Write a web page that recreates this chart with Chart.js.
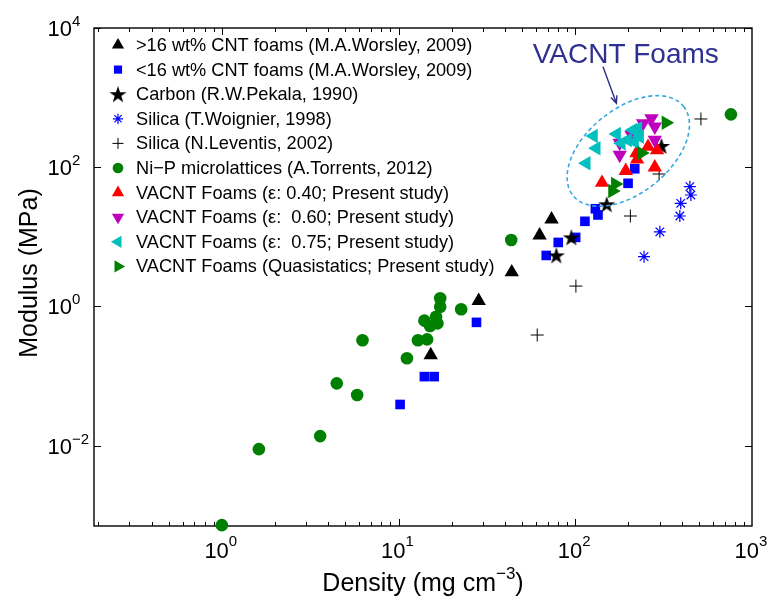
<!DOCTYPE html>
<html>
<head>
<meta charset="utf-8">
<script src="https://cdn.jsdelivr.net/npm/chart.js@4.4.0/dist/chart.umd.min.js"></script>
<style>
  body { margin: 0; background: #fff; }
</style>
</head>
<body>
<canvas id="grafico" width="773" height="598"></canvas>
<script>
// Dados (densidade mg/cm3, módulo MPa)
const cntAltoX = [15.2, 28.4, 43.7, 62.8, 73.4];
const cntAltoY = [0.2, 1.2, 3.1, 10.5, 17.8];

const cntBaixoX = [10.2, 14.0, 15.9, 27.6, 68.5, 80.1, 100.5, 113.4, 129.9, 134.4, 198.9, 217];
const cntBaixoY = [0.039, 0.098, 0.098, 0.59, 5.4, 8.3, 9.8, 16.7, 25.3, 20.6, 58.7, 95];

const carbonoX = [78.1, 95, 150.6, 307.5];
const carbonoY = [5.4, 9.8, 29.3, 202];

const silicaWX = [245, 301, 390.5, 395, 451, 445];
const silicaWY = [5.18, 11.8, 19.9, 30.3, 39.9, 52.5];

const silicaLX = [60.9, 100.8, 205, 298, 514];
const silicaLY = [0.388, 1.96, 19.9, 79.9, 493];

const niPX = [1.0, 1.62, 3.6, 4.47, 5.83, 6.25, 11.15, 12.88, 14.5, 14.0, 15.06, 16.3, 16.6, 17.2, 17.2, 22.6, 43.4, 760];
const niPY = [0.00072, 0.0089, 0.0137, 0.0785, 0.0533, 0.326, 0.180, 0.326, 0.336, 0.624, 0.523, 0.711, 0.571, 1.31, 0.99, 0.91, 9.0, 575];

const eps40X = [141.6, 193, 223.7, 222, 258, 290.4, 281.8];
const eps40Y = [59.9, 89, 129.9, 160, 197, 176.7, 99.7];

const eps60X = [178.4, 178.4, 208, 241.9, 269.9, 281.8, 281.8];
const eps60Y = [222.8, 149.7, 290, 427.6, 504, 381.9, 246];

const eps75X = [127, 131.6, 115.5, 171.6, 182.4, 212.3, 226.5, 231.6, 217, 198];
const eps75Y = [280.7, 187, 113.8, 300, 220.5, 342, 362, 274, 230, 246];

const quasiX = [325.3, 236.8, 168.2, 162.2];
const quasiY = [435.8, 160, 57.4, 45.5];

// eixos
const xMarcas = [1, 10, 100, 1000];
const xExpoentes = ['0', '1', '2', '3'];
const yMarcas = [1e-2, 1, 1e2, 1e4];
const yExpoentes = ['\u22122', '0', '2', '4'];

// anotação (em unidades dos dados)
const elipseCentro = [199.5, 171];
const setaInicio = [143.5, 2780];
const setaFim = [170.9, 828];
const textoAnotacao = [193, 3140];

const fonte = '"Liberation Sans", Arial, Helvetica, sans-serif';

function fazEstrela(r) {
    const c = document.createElement('canvas');
    c.width = c.height = Math.ceil(r * 2 + 2);
    const g = c.getContext('2d');
    const m = c.width / 2;
    g.beginPath();
    for (let k = 0; k < 10; k++) {
        const raio = k % 2 ? r * 0.382 : r;
        const ang = -Math.PI / 2 + k * Math.PI / 5;
        g.lineTo(m + raio * Math.cos(ang), m + raio * Math.sin(ang) + r * 0.08);
    }
    g.closePath();
    g.fillStyle = '#000';
    g.fill();
    return c;
}

const estrela = fazEstrela(9);

function pontos(xs, ys) {
    return xs.map((v, i) => ({ x: v, y: ys[i] }));
}

const series = [
    { label: '>16 wt% CNT foams (M.A.Worsley, 2009)', x: cntAltoX, y: cntAltoY, cor: '#000000', estilo: 'triangle', rot: 0, raio: 8.3, borda: 0 },
    { label: '<16 wt% CNT foams (M.A.Worsley, 2009)', x: cntBaixoX, y: cntBaixoY, cor: '#0000ff', estilo: 'rect', rot: 0, raio: 6.8, borda: 0 },
    { label: 'Carbon (R.W.Pekala, 1990)', x: carbonoX, y: carbonoY, cor: '#000000', estilo: estrela, rot: 0, raio: 8, borda: 0 },
    { label: 'Silica (T.Woignier, 1998)', x: silicaWX, y: silicaWY, cor: '#0000ff', estilo: 'star', rot: 0, raio: 6, borda: 1.2 },
    { label: 'Silica (N.Leventis, 2002)', x: silicaLX, y: silicaLY, cor: '#000000', estilo: 'cross', rot: 0, raio: 6.5, borda: 1 },
    { label: 'Ni\u2212P microlattices (A.Torrents, 2012)', x: niPX, y: niPY, cor: '#008000', estilo: 'circle', rot: 0, raio: 6.3, borda: 0 },
    { label: 'VACNT Foams (\u03b5: 0.40; Present study)', x: eps40X, y: eps40Y, cor: '#ff0000', estilo: 'triangle', rot: 0, raio: 8.3, borda: 0 },
    { label: 'VACNT Foams (\u03b5:  0.60; Present study)', x: eps60X, y: eps60Y, cor: '#bf00bf', estilo: 'triangle', rot: 180, raio: 8.3, borda: 0 },
    { label: 'VACNT Foams (\u03b5:  0.75; Present study)', x: eps75X, y: eps75Y, cor: '#00bfbf', estilo: 'triangle', rot: 270, raio: 8.3, borda: 0 },
    { label: 'VACNT Foams (Quasistatics; Present study)', x: quasiX, y: quasiY, cor: '#008000', estilo: 'triangle', rot: 90, raio: 8.3, borda: 0 }
];

const datasets = series.map((s, i) => ({
    label: s.label,
    data: pontos(s.x, s.y),
    showLine: false,
    clip: false,
    order: series.length - i,
    pointStyle: s.estilo,
    pointRotation: s.rot,
    pointRadius: s.raio,
    pointBackgroundColor: s.cor,
    pointBorderColor: s.cor,
    pointBorderWidth: s.borda
}));

// moldura, marcas e rótulos dos eixos
const moldura = {
    id: 'moldura',
    beforeDatasetsDraw(chart) {
        const { ctx, chartArea: a, scales: { x, y } } = chart;
        ctx.save();
        ctx.strokeStyle = '#000';
        ctx.lineWidth = 1.4;
        ctx.strokeRect(a.left, a.top, a.right - a.left, a.bottom - a.top);
        ctx.lineWidth = 1;
        ctx.beginPath();
        for (let d = -1; d <= 2; d++) {
            for (let m = 1; m <= 9; m++) {
                const v = m * Math.pow(10, d);
                if (v < x.min || v > x.max) continue;
                const px = Math.round(x.getPixelForValue(v)) + 0.5;
                const len = m === 1 ? 7 : 4;
                ctx.moveTo(px, a.bottom); ctx.lineTo(px, a.bottom - len);
                ctx.moveTo(px, a.top); ctx.lineTo(px, a.top + len);
            }
        }
        yMarcas.forEach(v => {
            const py = Math.round(y.getPixelForValue(v)) + 0.5;
            ctx.moveTo(a.left, py); ctx.lineTo(a.left + 7, py);
            ctx.moveTo(a.right, py); ctx.lineTo(a.right - 7, py);
        });
        ctx.stroke();
        ctx.restore();
    },
    afterDraw(chart) {
        const { ctx, chartArea: a, scales: { x, y } } = chart;
        ctx.save();
        ctx.fillStyle = '#000';
        ctx.textBaseline = 'alphabetic';
        xMarcas.forEach((v, i) => {
            const px = x.getPixelForValue(v);
            ctx.font = '22px ' + fonte;
            ctx.textAlign = 'right';
            ctx.fillText('10', px + 7, a.bottom + 32);
            ctx.font = '15px ' + fonte;
            ctx.textAlign = 'left';
            ctx.fillText(xExpoentes[i], px + 7, a.bottom + 20);
        });
        yMarcas.forEach((v, i) => {
            const py = y.getPixelForValue(v);
            ctx.font = '22px ' + fonte;
            ctx.textAlign = 'right';
            ctx.fillText('10', 72, py + 8);
            ctx.font = '15px ' + fonte;
            ctx.textAlign = 'left';
            ctx.fillText(yExpoentes[i], 72, py - 2);
        });

        // título do eixo x
        const t1 = 'Density (mg cm';
        ctx.font = '25px ' + fonte;
        const w1 = ctx.measureText(t1).width;
        ctx.font = '17px ' + fonte;
        const w2 = ctx.measureText('\u22123').width;
        ctx.font = '25px ' + fonte;
        const w3 = ctx.measureText(')').width;
        const xx = (a.left + a.right) / 2 - (w1 + w2 + w3) / 2;
        const base = 591;
        ctx.textAlign = 'left';
        ctx.fillText(t1, xx, base);
        ctx.font = '17px ' + fonte;
        ctx.fillText('\u22123', xx + w1, base - 12);
        ctx.font = '25px ' + fonte;
        ctx.fillText(')', xx + w1 + w2, base);

        // título do eixo y
        ctx.translate(37, (a.top + a.bottom) / 2 - 4);
        ctx.rotate(-Math.PI / 2);
        ctx.textAlign = 'center';
        ctx.fillText('Modulus (MPa)', 0, 0);
        ctx.restore();
    }
};

// elipse, seta e texto da anotação
const anotacao = {
    id: 'anotacao',
    afterDatasetsDraw(chart) {
        const { ctx, scales: { x, y } } = chart;
        ctx.save();
        const cx = x.getPixelForValue(elipseCentro[0]);
        const cy = y.getPixelForValue(elipseCentro[1]);
        ctx.strokeStyle = '#35a8df';
        ctx.lineWidth = 1.6;
        ctx.setLineDash([4, 3]);
        ctx.beginPath();
        ctx.ellipse(cx, cy, 71, 42, -39 * Math.PI / 180, 0, 2 * Math.PI);
        ctx.stroke();
        ctx.setLineDash([]);

        const x0 = x.getPixelForValue(setaInicio[0]);
        const y0 = y.getPixelForValue(setaInicio[1]);
        const x1 = x.getPixelForValue(setaFim[0]);
        const y1 = y.getPixelForValue(setaFim[1]);
        const ang = Math.atan2(y1 - y0, x1 - x0);
        ctx.strokeStyle = '#2b2f86';
        ctx.lineWidth = 1.4;
        ctx.beginPath();
        ctx.moveTo(x0, y0);
        ctx.lineTo(x1, y1);
        ctx.moveTo(x1 - 8 * Math.cos(ang - 0.4), y1 - 8 * Math.sin(ang - 0.4));
        ctx.lineTo(x1, y1);
        ctx.lineTo(x1 - 8 * Math.cos(ang + 0.4), y1 - 8 * Math.sin(ang + 0.4));
        ctx.stroke();

        ctx.fillStyle = '#2e3192';
        ctx.font = '28px ' + fonte;
        ctx.textAlign = 'center';
        ctx.fillText('VACNT Foams', x.getPixelForValue(textoAnotacao[0]), y.getPixelForValue(textoAnotacao[1]));
        ctx.restore();
    }
};

// legenda desenhada à mão, usando os estilos dos datasets
const legenda = {
    id: 'legenda',
    afterDraw(chart) {
        const { ctx, chartArea: a } = chart;
        ctx.save();
        chart.data.datasets.forEach((ds, i) => {
            const yy = a.top + 17 + i * 24.6;
            ctx.fillStyle = ds.pointBackgroundColor;
            ctx.strokeStyle = ds.pointBorderColor;
            ctx.lineWidth = ds.pointBorderWidth;
            Chart.helpers.drawPoint(ctx, {
                pointStyle: ds.pointStyle,
                rotation: ds.pointRotation,
                radius: ds.pointRadius * 0.85,
                borderWidth: ds.pointBorderWidth
            }, a.left + 24, yy);
            ctx.fillStyle = '#000';
            ctx.font = '18.2px ' + fonte;
            ctx.textAlign = 'left';
            ctx.textBaseline = 'middle';
            ctx.fillText(ds.label, a.left + 42, yy + 1);
        });
        ctx.restore();
    }
};

const config = {
    type: 'scatter',
    data: { datasets: datasets },
    options: {
        responsive: false,
        animation: false,
        events: [],
        devicePixelRatio: 1,
        layout: { padding: { left: 94, right: 21, top: 28, bottom: 72 } },
        scales: {
            x: { type: 'logarithmic', min: 0.189, max: 1000, bounds: 'data', display: false },
            y: { type: 'logarithmic', min: 0.0007, max: 10000, bounds: 'data', display: false }
        },
        plugins: {
            legend: { display: false },
            tooltip: { enabled: false }
        }
    },
    plugins: [moldura, anotacao, legenda]
};

const grafico = new Chart(document.getElementById('grafico'), config);
</script>
</body>
</html>
